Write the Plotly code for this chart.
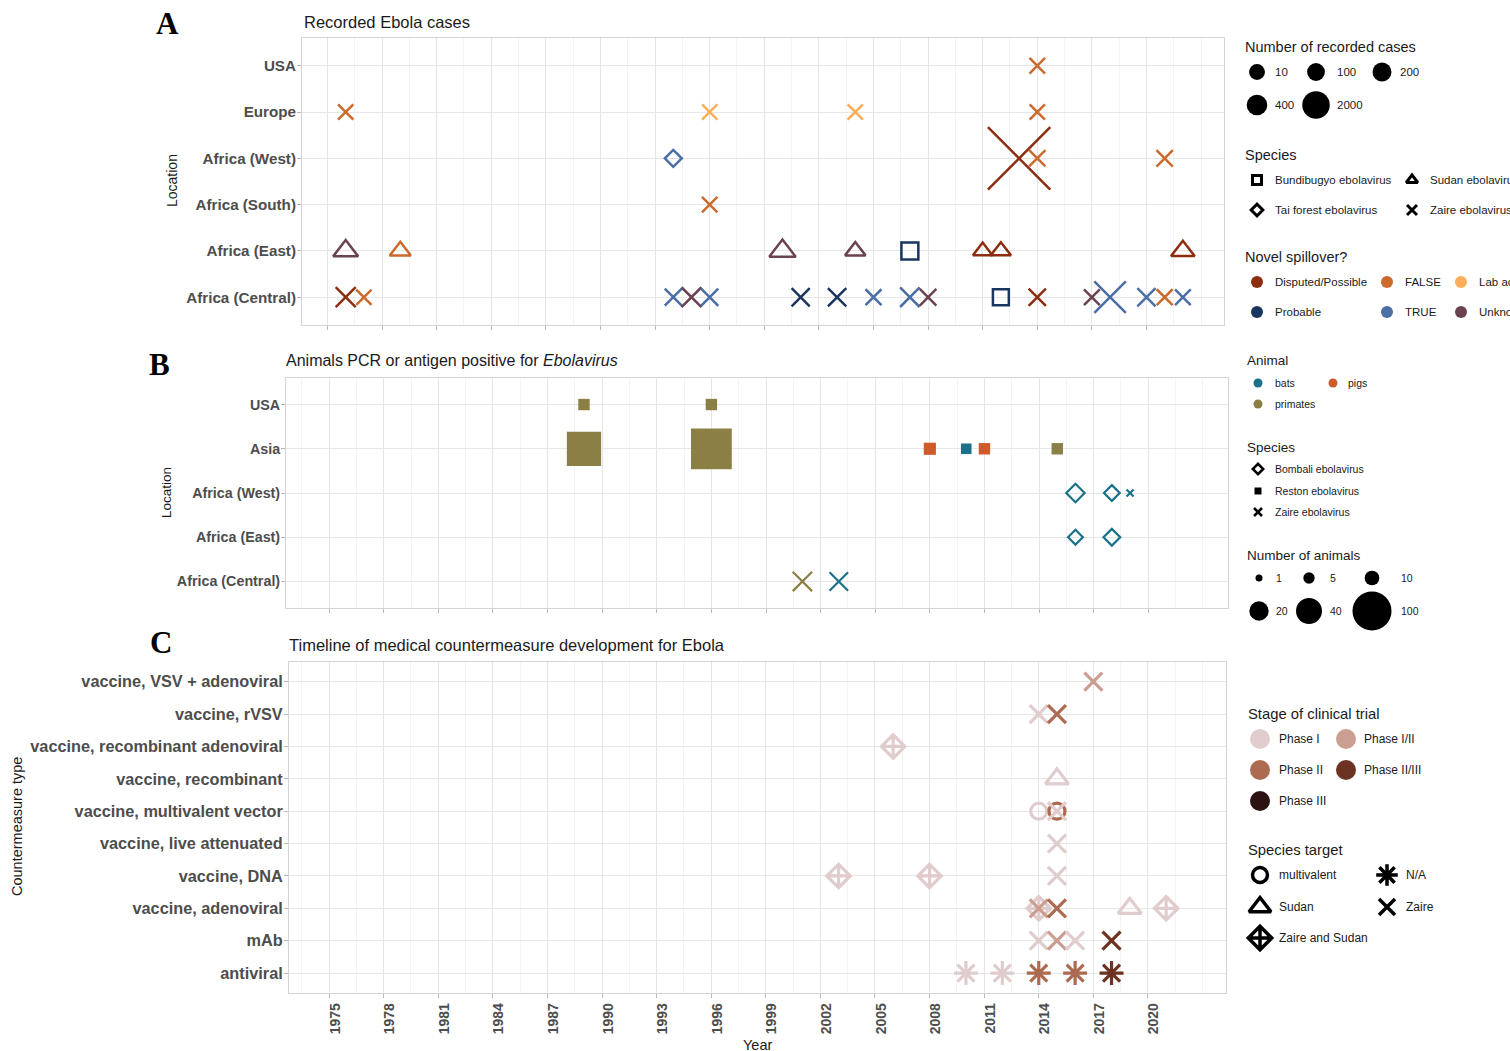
import math
import plotly.graph_objects as go

W, H = 1510, 1051
FONT = "Liberation Sans, Arial, Helvetica, sans-serif"
SERIF = "Liberation Serif, Times New Roman, serif"

# ---------------- Panel A: recorded Ebola cases ----------------
a_locations = ["Africa (Central)", "Africa (East)", "Africa (South)", "Africa (West)", "Europe", "USA"]
a_year = [1976, 1976, 1976, 1977, 1979, 1994, 1994, 1995, 1996, 1996, 1996, 2000, 2001, 2003,
          2004, 2004, 2005, 2007, 2007, 2008, 2011, 2012, 2012, 2013, 2014, 2014, 2014, 2014,
          2017, 2018, 2020, 2021, 2021, 2022, 2022]
a_location = ["Africa (Central)", "Africa (East)", "Europe", "Africa (Central)", "Africa (East)",
              "Africa (Central)", "Africa (West)", "Africa (Central)", "Africa (Central)", "Africa (South)",
              "Europe", "Africa (East)", "Africa (Central)", "Africa (Central)", "Africa (East)",
              "Europe", "Africa (Central)", "Africa (Central)", "Africa (East)", "Africa (Central)",
              "Africa (East)", "Africa (East)", "Africa (Central)", "Africa (West)", "Africa (West)",
              "Africa (Central)", "Europe", "USA", "Africa (Central)", "Africa (Central)",
              "Africa (Central)", "Africa (Central)", "Africa (West)", "Africa (Central)", "Africa (East)"]
a_species = ["Zaire ebolavirus", "Sudan ebolavirus", "Zaire ebolavirus", "Zaire ebolavirus", "Sudan ebolavirus",
             "Zaire ebolavirus", "Tai forest ebolavirus", "Zaire ebolavirus", "Zaire ebolavirus", "Zaire ebolavirus",
             "Zaire ebolavirus", "Sudan ebolavirus", "Zaire ebolavirus", "Zaire ebolavirus", "Sudan ebolavirus",
             "Zaire ebolavirus", "Zaire ebolavirus", "Zaire ebolavirus", "Bundibugyo ebolavirus", "Zaire ebolavirus",
             "Sudan ebolavirus", "Sudan ebolavirus", "Bundibugyo ebolavirus", "Zaire ebolavirus", "Zaire ebolavirus",
             "Zaire ebolavirus", "Zaire ebolavirus", "Zaire ebolavirus", "Zaire ebolavirus", "Zaire ebolavirus",
             "Zaire ebolavirus", "Zaire ebolavirus", "Zaire ebolavirus", "Zaire ebolavirus", "Sudan ebolavirus"]
a_spillover = ["Disputed/Possible", "Unknown", "FALSE", "FALSE", "FALSE", "TRUE", "TRUE", "Unknown", "TRUE",
               "FALSE", "Lab accident", "Unknown", "Probable", "Probable", "Unknown", "Lab accident", "TRUE",
               "TRUE", "Probable", "Unknown", "Disputed/Possible", "Disputed/Possible", "Probable",
               "Disputed/Possible", "FALSE", "Disputed/Possible", "FALSE", "FALSE", "Unknown", "TRUE", "TRUE",
               "FALSE", "FALSE", "TRUE", "Disputed/Possible"]
a_cases = [318, 284, 1, 1, 34, 52, 1, 315, 60, 2, 1, 425, 124, 143, 17, 1, 12, 264, 131, 32, 1, 11, 57,
           28600, 20, 66, 1, 4, 8, 3470, 130, 12, 23, 5, 164]
a_case_breaks = [10, 100, 200, 400, 2000]
a_species_levels = ["Bundibugyo ebolavirus", "Sudan ebolavirus", "Tai forest ebolavirus", "Zaire ebolavirus"]
a_spill_levels = ["Disputed/Possible", "FALSE", "Lab accident", "Probable", "TRUE", "Unknown"]

# ---------------- Panel B: animals positive ----------------
b_locations = ["Africa (Central)", "Africa (East)", "Africa (West)", "Asia", "USA"]
b_year = [1989, 1996, 1989, 1996, 2008, 2010, 2011, 2015, 2016, 2018, 2019, 2016, 2018, 2001, 2003]
b_location = ["USA", "USA", "Asia", "Asia", "Asia", "Asia", "Asia", "Asia", "Africa (West)", "Africa (West)",
              "Africa (West)", "Africa (East)", "Africa (East)", "Africa (Central)", "Africa (Central)"]
b_species = ["Reston ebolavirus"] * 8 + ["Bombali ebolavirus", "Bombali ebolavirus", "Zaire ebolavirus",
                                         "Bombali ebolavirus", "Bombali ebolavirus", "Zaire ebolavirus",
                                         "Zaire ebolavirus"]
b_animal = ["primates", "primates", "primates", "primates", "pigs", "bats", "pigs", "primates", "bats", "bats",
            "bats", "bats", "bats", "primates", "bats"]
b_count = [5, 5, 75, 110, 6, 4, 5, 5, 9, 6, 1, 5, 7, 20, 18]
b_count_breaks = [1, 5, 10, 20, 40, 100]
b_animal_levels = ["bats", "pigs", "primates"]
b_species_levels = ["Bombali ebolavirus", "Reston ebolavirus", "Zaire ebolavirus"]

# ---------------- Panel C: countermeasures ----------------
c_types = ["antiviral", "mAb", "vaccine, adenoviral", "vaccine, DNA", "vaccine, live attenuated",
           "vaccine, multivalent vector", "vaccine, recombinant", "vaccine, recombinant adenoviral",
           "vaccine, rVSV", "vaccine, VSV + adenoviral"]
c_year = [2017, 2014, 2015, 2006, 2015, 2014, 2015, 2015, 2015, 2003, 2008, 2015, 2014, 2014, 2015, 2019,
          2021, 2014, 2015, 2016, 2018, 2010, 2012, 2014, 2016, 2018]
c_type = ["vaccine, VSV + adenoviral", "vaccine, rVSV", "vaccine, rVSV", "vaccine, recombinant adenoviral",
          "vaccine, recombinant", "vaccine, multivalent vector", "vaccine, multivalent vector",
          "vaccine, multivalent vector", "vaccine, live attenuated", "vaccine, DNA", "vaccine, DNA",
          "vaccine, DNA", "vaccine, adenoviral", "vaccine, adenoviral", "vaccine, adenoviral",
          "vaccine, adenoviral", "vaccine, adenoviral", "mAb", "mAb", "mAb", "mAb", "antiviral", "antiviral",
          "antiviral", "antiviral", "antiviral"]
c_stage = ["Phase I/II", "Phase I", "Phase II", "Phase I", "Phase I", "Phase I", "Phase II", "Phase I",
           "Phase I", "Phase I", "Phase I", "Phase I", "Phase I", "Phase I/II", "Phase II", "Phase I",
           "Phase I", "Phase I", "Phase I/II", "Phase I", "Phase II/III", "Phase I", "Phase I", "Phase II",
           "Phase II", "Phase II/III"]
c_target = ["Zaire", "Zaire", "Zaire", "Zaire and Sudan", "Sudan", "multivalent", "multivalent", "Zaire",
            "Zaire", "Zaire and Sudan", "Zaire and Sudan", "Zaire", "Zaire and Sudan", "Zaire", "Zaire",
            "Sudan", "Zaire and Sudan", "Zaire", "Zaire", "Zaire", "Zaire", "N/A", "N/A", "N/A", "N/A", "N/A"]
c_stage_levels = ["Phase I", "Phase I/II", "Phase II", "Phase II/III", "Phase III"]
c_target_levels = ["multivalent", "N/A", "Sudan", "Zaire", "Zaire and Sudan"]

x_ticks = list(range(1975, 2021, 3))

# ---------------- styles ----------------
spill_colors = {"Disputed/Possible": "#8C2D10", "FALSE": "#CC6A2C", "Lab accident": "#FBAE5A",
                "Probable": "#1A355F", "TRUE": "#4A6EA5", "Unknown": "#6B4252"}
a_symbols = {"Bundibugyo ebolavirus": "square-open", "Sudan ebolavirus": "triangle-up-open",
             "Tai forest ebolavirus": "diamond-open", "Zaire ebolavirus": "x-thin-open"}
a_symfac = {"square-open": 0.93, "triangle-up-open": 1.1, "diamond-open": 0.85, "x-thin-open": 1.0}

animal_colors = {"bats": "#1A7189", "pigs": "#CF5B2B", "primates": "#8C7F46"}
b_symbols = {"Bombali ebolavirus": "diamond-open", "Reston ebolavirus": "square", "Zaire ebolavirus": "x-thin-open"}

stage_colors = {"Phase I": "#E0CCCC", "Phase I/II": "#CB9E92", "Phase II": "#AC6B51",
                "Phase II/III": "#6C3322", "Phase III": "#2C1210"}
c_symbols = {"multivalent": "circle-open", "N/A": "asterisk-open", "Sudan": "triangle-up-open",
             "Zaire": "x-thin-open", "Zaire and Sudan": "diamond-cross-open"}
c_symsize = {"circle-open": 16, "asterisk-open": 20, "triangle-up-open": 20, "x-thin-open": 18,
             "diamond-cross-open": 18}


def size_cases(n):
    return 15 + 0.28 * math.sqrt(n)


def size_animals(n):
    return 3.44 + 3.56 * math.sqrt(n)


def fx(px):
    return px / W


def fy(py):
    return 1 - py / H


fig = go.Figure()

# Panel A trace
syms = [a_symbols[s] for s in a_species]
fig.add_trace(go.Scatter(
    x=a_year, y=a_location, mode="markers", xaxis="x", yaxis="y", showlegend=False, cliponaxis=False,
    marker=dict(symbol=syms, opacity=1,
                size=[size_cases(n) * a_symfac[s] for n, s in zip(a_cases, syms)],
                color=[spill_colors[s] for s in a_spillover],
                line=dict(color=[spill_colors[s] for s in a_spillover], width=2.5))))

# Panel B trace
bsyms = [b_symbols[s] for s in b_species]
fig.add_trace(go.Scatter(
    x=b_year, y=b_location, mode="markers", xaxis="x2", yaxis="y2", showlegend=False, cliponaxis=False,
    marker=dict(symbol=bsyms, opacity=1,
                size=[size_animals(n) for n in b_count],
                color=[animal_colors[a] for a in b_animal],
                line=dict(color=[animal_colors[a] for a in b_animal],
                          width=[0 if s == "square" else 2.2 for s in bsyms]))))

# Panel C trace
csyms = [c_symbols[t] for t in c_target]
fig.add_trace(go.Scatter(
    x=c_year, y=c_type, mode="markers", xaxis="x3", yaxis="y3", showlegend=False, cliponaxis=False,
    marker=dict(symbol=csyms, opacity=1, size=[c_symsize[s] for s in csyms],
                color=[stage_colors[s] for s in c_stage],
                line=dict(color=[stage_colors[s] for s in c_stage], width=3.2))))

annotations = []
LAB_SHIFT = 3


def legend_block(title, ty, tx, tsize, labels, colx, labx, rows, lsize, keyfn):
    annotations.append(dict(text=title, x=tx - LAB_SHIFT, y=ty, xref="x4", yref="y4", xanchor="left",
                            yanchor="middle", showarrow=False,
                            font=dict(family=FONT, size=tsize, color="#1a1a1a")))
    ncol = len(colx)
    xs, ys, sy, sz, col, lw = [], [], [], [], [], []
    for i, lab in enumerate(labels):
        r, c = divmod(i, ncol)
        s, clr, size, w = keyfn(lab)
        xs.append(colx[c]); ys.append(rows[r]); sy.append(s); sz.append(size); col.append(clr); lw.append(w)
        annotations.append(dict(text=lab, x=labx[c] - LAB_SHIFT, y=rows[r], xref="x4", yref="y4",
                                xanchor="left", yanchor="middle", showarrow=False,
                                font=dict(family=FONT, size=lsize, color="#1a1a1a")))
    fig.add_trace(go.Scatter(x=xs, y=ys, mode="markers", xaxis="x4", yaxis="y4", showlegend=False,
                             cliponaxis=False, hoverinfo="skip",
                             marker=dict(symbol=sy, size=sz, color=col, opacity=1,
                                         line=dict(color=col, width=lw))))


# Legends panel A
legend_block("Number of recorded cases", 47, 1246, 14.5, [str(v) for v in a_case_breaks],
             [1257, 1316, 1382], [1276, 1338, 1401], [72, 105], 11.5,
             lambda lab: ("circle", "#000000", size_cases(float(lab)), 0))
a_leg_size = {"square-open": 9, "triangle-up-open": 10, "diamond-open": 9, "x-thin-open": 10}
legend_block("Species", 155, 1246, 14.5, a_species_levels,
             [1257, 1412], [1276, 1431], [180, 210], 11.5,
             lambda lab: (a_symbols[lab], "#000000", a_leg_size[a_symbols[lab]], 3))
legend_block("Novel spillover?", 257, 1246, 14.5, a_spill_levels,
             [1257, 1387, 1461], [1276, 1406, 1480], [282, 312], 11.5,
             lambda lab: ("circle", spill_colors[lab], 12, 0))

# Legends panel B
legend_block("Animal", 360, 1248, 13.5, b_animal_levels,
             [1258, 1333], [1276, 1349], [383, 404], 10.5,
             lambda lab: ("circle", animal_colors[lab], 9, 0))
b_leg_size = {"diamond-open": 8, "square": 7, "x-thin-open": 8}
legend_block("Species", 447, 1248, 13.5, b_species_levels,
             [1258], [1276], [469, 491, 512], 10.5,
             lambda lab: (b_symbols[lab], "#000000", b_leg_size[b_symbols[lab]],
                          0 if b_symbols[lab] == "square" else 2.5))
legend_block("Number of animals", 555, 1248, 13.5, [str(v) for v in b_count_breaks],
             [1259, 1309, 1372], [1277, 1331, 1402], [578, 611], 10.5,
             lambda lab: ("circle", "#000000", size_animals(float(lab)), 0))

# Legends panel C
legend_block("Stage of clinical trial", 714, 1249, 14.8, c_stage_levels,
             [1260, 1346], [1280, 1365], [739, 770, 801], 12,
             lambda lab: ("circle", stage_colors[lab], 20, 0))
c_leg_size = {"circle-open": 15, "asterisk-open": 18, "triangle-up-open": 19, "x-thin-open": 16,
              "diamond-cross-open": 18}
legend_block("Species target", 850, 1249, 14.8, c_target_levels,
             [1260, 1387], [1280, 1407], [875, 907, 938], 12,
             lambda lab: (c_symbols[lab], "#000000", c_leg_size[c_symbols[lab]], 3.5))


# Titles, panel letters, axis titles
def ann(text, x, y, size, color="#1a1a1a", family=FONT, xanchor="left", angle=0):
    annotations.append(dict(text=text, x=fx(x), y=fy(y), xref="paper", yref="paper", xanchor=xanchor,
                            yanchor="middle", showarrow=False, textangle=angle,
                            font=dict(family=family, size=size, color=color)))


ann("Recorded Ebola cases", 302, 22, 16.5)
ann("Animals PCR or antigen positive for <i>Ebolavirus</i>", 284, 360, 16)
ann("Timeline of medical countermeasure development for Ebola", 287, 645, 16.5)
ann("<b>A</b>", 167, 24, 31, "#000000", SERIF, "center")
ann("<b>B</b>", 159, 364, 31, "#000000", SERIF, "center")
ann("<b>C</b>", 161, 642, 31, "#000000", SERIF, "center")
ann("Location", 172, 181, 14, angle=-90, xanchor="center")
ann("Location", 166, 493, 13.5, angle=-90, xanchor="center")
ann("Countermeasure type", 17, 827, 14.5, angle=-90, xanchor="center")
ann("Year", 757, 1045, 14.5, xanchor="center")

GRID = "#e6e6e6"
MINOR = "#f0f0f0"
BORDER = "#d4d4d4"
TICKC = "#b8b8b8"


def xaxis(domain, rng, anchor, labels):
    d = dict(domain=domain, range=rng, anchor=anchor, tickmode="array", tickvals=x_ticks,
             showticklabels=labels, ticks="outside", ticklen=4, tickcolor=TICKC, tickwidth=1,
             tickangle=-90, tickfont=dict(family=FONT, size=14, color="#4d4d4d", weight="bold"),
             showgrid=True, gridcolor=GRID, gridwidth=1,
             minor=dict(tick0=1975, dtick=1.5, showgrid=True, gridcolor=MINOR, gridwidth=0.8),
             showline=True, linecolor=BORDER, linewidth=1, mirror=True, zeroline=False, fixedrange=True)
    if labels:
        d["ticklabelshift"] = 6
    return d


def yaxis(domain, cats, anchor, fsize):
    return dict(domain=domain, anchor=anchor, type="category", categoryorder="array", categoryarray=cats,
                range=[-0.6, len(cats) - 0.4], ticks="outside", ticklen=4, tickcolor=TICKC, tickwidth=1,
                ticklabelstandoff=-2,
                tickfont=dict(family=FONT, size=fsize, color="#4d4d4d", weight="bold"),
                showgrid=True, gridcolor=GRID, gridwidth=1,
                showline=True, linecolor=BORDER, linewidth=1, mirror=True, zeroline=False, fixedrange=True)


fig.update_layout(
    width=W, height=H, autosize=False,
    margin=dict(l=0, r=0, t=0, b=0, pad=0),
    paper_bgcolor="white", plot_bgcolor="white",
    font=dict(family=FONT, color="#1a1a1a"),
    showlegend=False,
    xaxis=xaxis([fx(302), fx(1224)], [1973.6, 2024.26], "y", False),
    yaxis=yaxis([fy(325), fy(38)], a_locations, "x", 15.2),
    xaxis2=xaxis([fx(286), fx(1228)], [1972.63, 2024.38], "y2", False),
    yaxis2=yaxis([fy(608), fy(378)], b_locations, "x2", 14.3),
    xaxis3=xaxis([fx(289), fx(1226)], [1972.8, 2024.29], "y3", True),
    yaxis3=yaxis([fy(992.5), fy(662.3)], c_types, "x3", 16.3),
    xaxis4=dict(domain=[fx(1232), 1], range=[1232, W], visible=False, fixedrange=True, anchor="y4"),
    yaxis4=dict(domain=[0, 1], range=[H, 0], visible=False, fixedrange=True, anchor="x4"),
    annotations=annotations,
)

fig.write_html("out.html", config={"displayModeBar": False, "staticPlot": True},
               post_script="document.body.style.margin='0';document.body.style.overflow='hidden';")
